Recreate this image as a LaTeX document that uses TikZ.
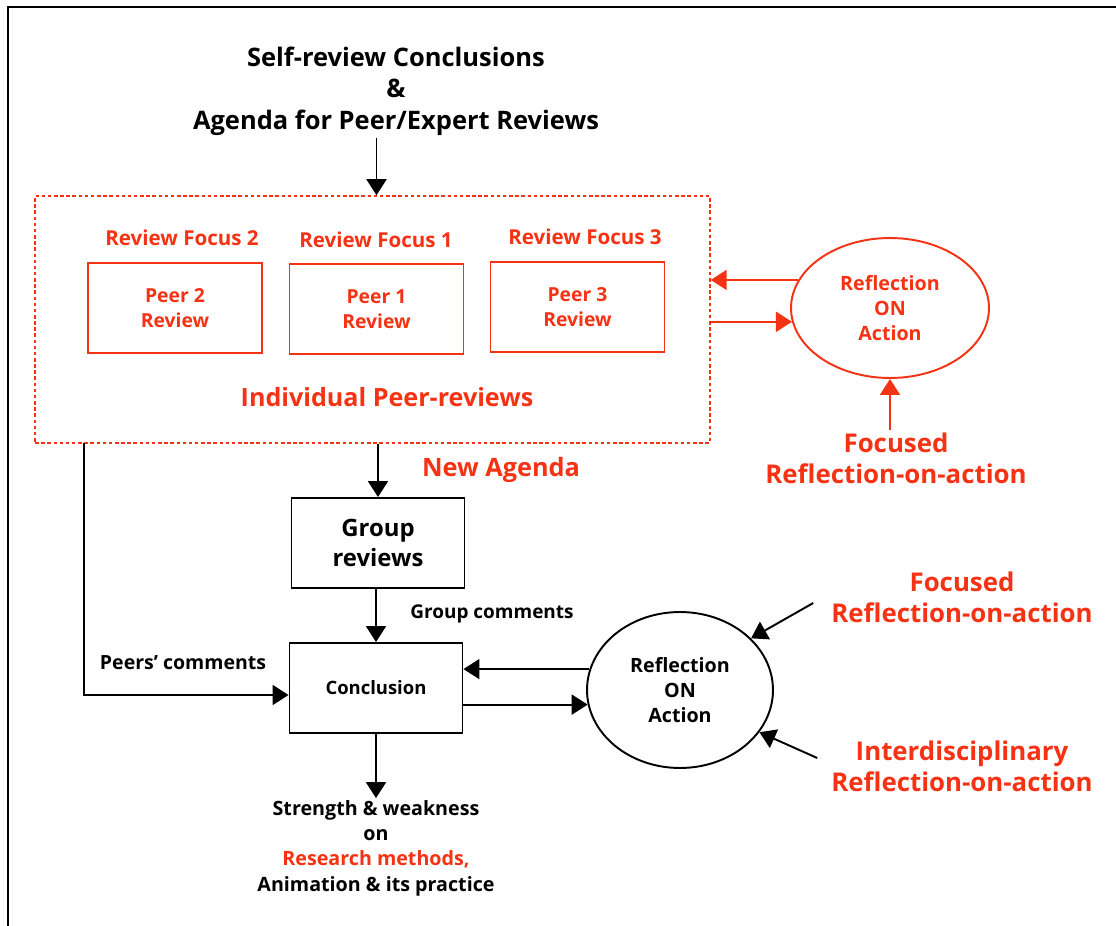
\documentclass[tikz,border=0pt]{standalone}
\usepackage{fontspec}
\setmainfont{Open Sans}
\usepackage{tikz}
\usetikzlibrary{arrows.meta, positioning, calc, shapes.geometric}
\definecolor{revred}{RGB}{245,50,20}

\begin{document}
\begin{tikzpicture}[
  x=0.02cm, y=-0.02cm,
  peerbox/.style={
    rectangle,
    draw=revred,
    text=revred,
    line width=1.1pt,
    align=center,
    minimum width=3.48cm,
    minimum height=1.8cm,
    inner sep=0pt,
    font=\bfseries\fontsize{11}{14.2}\selectfont
  },
  box/.style={
    rectangle,
    draw,
    line width=1.1pt,
    align=center,
    minimum width=3.46cm,
    minimum height=1.8cm,
    inner sep=0pt
  },
  reflect/.style={
    ellipse,
    draw,
    line width=1.1pt,
    align=center,
    inner sep=0pt,
    font=\bfseries\fontsize{11.2}{14.2}\selectfont
  },
  lbl/.style={align=center, inner sep=1pt},
  arrow/.style={-{Triangle[length=3.2mm,width=4mm]}, line width=1.1pt}
]
\useasboundingbox (0,0) rectangle (1116,926);

% Rahmen
\draw[line width=1.7pt] (8,926) -- (8,7) -- (1116,7);

% Ausgangspunkt (oben)
\node[lbl, font=\bfseries\fontsize{14.5}{18}\selectfont] (self) at (396,91) {%
  Self-review Conclusions\\
  \&\\
  Agenda for Peer/Expert Reviews
};

% Einzelne Peer-Reviews
\node[rectangle, draw=revred, line width=0.9pt, dash pattern=on 2pt off 1.5pt,
  minimum width=13.5cm, minimum height=4.94cm, inner sep=0pt] (indiv) at (372.5,319.5) {};

\node[peerbox] (peer2) at (175,308) {Peer 2\\Review};
\node[peerbox] (peer1) at (376.5,309) {Peer 1\\Review};
\node[peerbox] (peer3) at (577.5,307) {Peer 3\\Review};

\node[lbl, text=revred, font=\bfseries\fontsize{11.7}{14}\selectfont] (foc2) at (182,238) {Review Focus 2};
\node[lbl, text=revred, font=\bfseries\fontsize{11.7}{14}\selectfont] (foc1) at (376,240) {Review Focus 1};
\node[lbl, text=revred, font=\bfseries\fontsize{11.7}{14}\selectfont] (foc3) at (585,237) {Review Focus 3};

\node[lbl, text=revred, font=\bfseries\fontsize{14.3}{16}\selectfont] (indivlbl) at (387,397) {Individual Peer-reviews};

% Reflexion zu den Peer-Reviews
\node[reflect, draw=revred, text=revred, minimum width=3.96cm, minimum height=2.8cm] (refl1) at (890,308) {%
  Reflection\\ON\\Action
};
\node[lbl, text=revred, font=\bfseries\fontsize{14.7}{17.6}\selectfont] (focrefl1) at (896,458) {%
  Focused\\Reflection-on-action
};

\draw[arrow, revred] (refl1.163) -- (refl1.163 -| indiv.east);
\draw[arrow, revred] (indiv.east |- refl1.188) -- (refl1.188);
\draw[arrow, revred] (focrefl1.north -| refl1.south) -- (refl1.south);

% Gruppen-Reviews
\node[box, font=\bfseries\fontsize{13.6}{17}\selectfont] (group) at (378,543) {Group\\reviews};
\node[lbl, text=revred, font=\bfseries\fontsize{14.4}{17}\selectfont] (agenda) at (501,470) {New Agenda};

\draw[arrow] (self.south -| peer1) -- (peer1 |- indiv.north);
\draw[arrow] (indiv.south -| group) -- (group);

% Schlussfolgerung
\node[box, font=\bfseries\fontsize{10.5}{13}\selectfont] (concl) at (376,688) {Conclusion};
\node[lbl, font=\bfseries\fontsize{10.8}{13}\selectfont] (gcom) at (492,614) {Group comments};
\node[lbl, font=\bfseries\fontsize{11.1}{13}\selectfont] (pcom) at (183,663) {Peers' comments};

\coordinate (pstart) at (84,443);
\draw[arrow] (group.south -| concl) -- (concl);
\draw[arrow] (pstart) |- ([yshift=-1.4mm]concl.west);

% Reflexion zur Schlussfolgerung
\node[reflect, minimum width=3.72cm, minimum height=3.12cm] (refl2) at (680,690) {%
  Reflection\\ON\\Action
};
\node[lbl, text=revred, font=\bfseries\fontsize{14.7}{17.6}\selectfont] (focrefl2) at (962,597) {%
  Focused\\Reflection-on-action
};
\node[lbl, text=revred, font=\bfseries\fontsize{14.7}{17.6}\selectfont] (interrefl) at (962,766) {%
  Interdisciplinary\\Reflection-on-action
};

\draw[arrow] (refl2.167) -- (refl2.167 -| concl.east);
\draw[arrow] (concl.east |- refl2.189) -- (refl2.189);
\draw[arrow] ($(focrefl2.west)+(-16,6)$) -- (refl2.36);
\draw[arrow] ($(interrefl.west)+(-12,-8)$) -- (refl2.-28);

% Ergebnis
\node[lbl, font=\bfseries\fontsize{11.2}{14.4}\selectfont] (result) at (376,848) {%
  Strength \& weakness\\
  on\\
  \textcolor{revred}{Research methods,}\\
  Animation \& its practice
};
\draw[arrow] (concl) -- (result.north);

\end{tikzpicture}
\end{document}
